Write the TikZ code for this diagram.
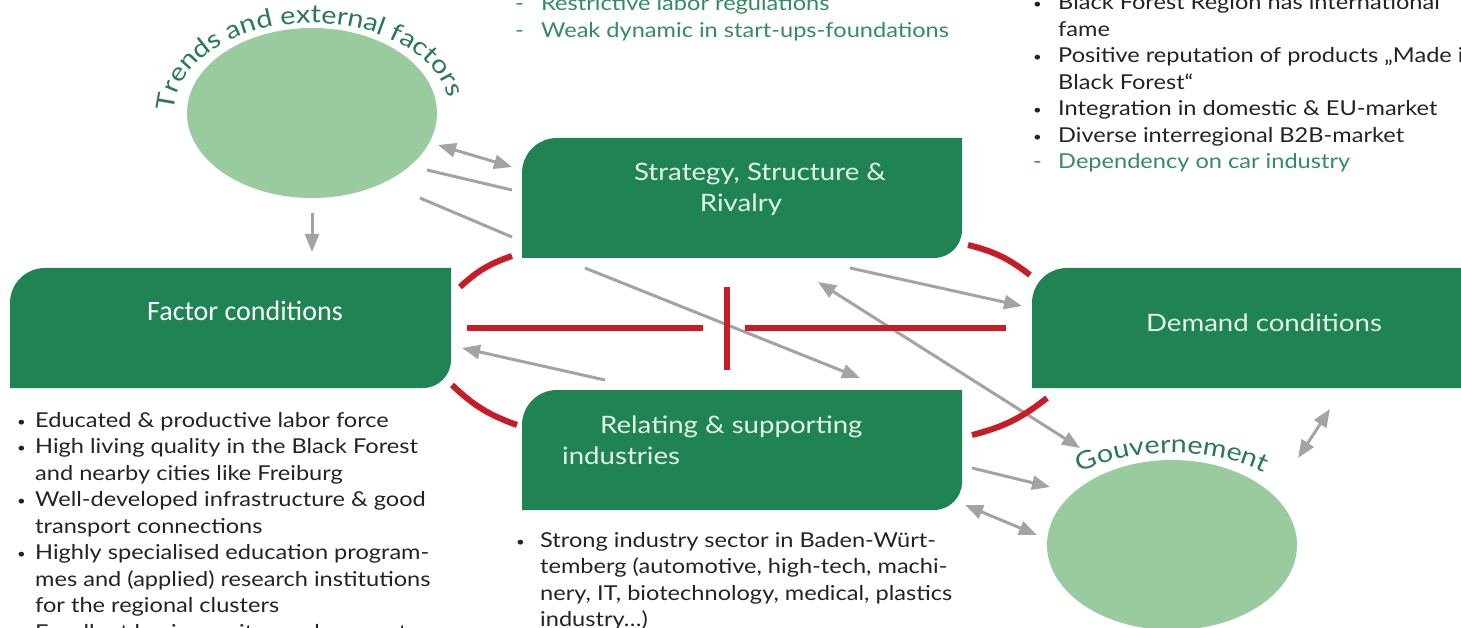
\documentclass[tikz,border=0pt]{standalone}
\usepackage{fontspec}
\setmainfont{Lato}[FakeStretch=1.15]
\newfontfamily\calibri{Carlito}
\usetikzlibrary{arrows.meta,decorations.text,shapes.geometric}
\definecolor{boxgreen}{RGB}{31,131,84}
\definecolor{lightgreen}{RGB}{153,203,158}
\definecolor{txtgreen}{RGB}{50,140,95}
\definecolor{arcgreen}{RGB}{42,120,88}
\definecolor{boxtxt}{RGB}{228,245,232}
\definecolor{redl}{RGB}{200,28,38}
\definecolor{greyl}{RGB}{163,163,163}
\definecolor{bodytxt}{RGB}{35,35,35}
\newcommand\bodyfnt{\fontsize{20.5}{26.5}\selectfont}
\newcommand\boxfnt{\fontsize{24}{31}\selectfont}
\newcommand\bul{\raisebox{1pt}{\fontsize{13}{13}\selectfont\textbullet}}
\begin{document}
\begin{tikzpicture}[x=1pt,y=-1pt,
  boxnode/.style={rectangle, inner sep=0, outer sep=0},
  tip/.style={Triangle[length=18pt,width=14pt]},
  garrow/.style={draw=greyl, line width=3pt, -{Triangle[length=18pt,width=14pt]}},
  gdouble/.style={draw=greyl, line width=3pt, {Triangle[length=18pt,width=14pt]}-{Triangle[length=18pt,width=14pt]}},
  gline/.style={draw=greyl, line width=3pt},
  redline/.style={draw=redl, line width=6pt},
  boxlabel/.style={text=boxtxt, font=\boxfnt, inner sep=0},
  bodytext/.style={text=bodytxt, font=\bodyfnt, inner sep=0, anchor=base west},
  greentext/.style={text=txtgreen, font=\bodyfnt, inner sep=0, anchor=base west},
  oval/.style={ellipse, fill=lightgreen, inner sep=0, minimum width=250pt, minimum height=170pt}
]
\useasboundingbox (0,0) rectangle (1461,628);
\clip (0,0) rectangle (1461,628);

% ellipses
\node[oval] (T) at (312,113) {};
\node[oval] (G) at (1172,545) {};
\path[decorate, decoration={text along path, text align=center, text color=arcgreen,
  text={|\fontsize{25}{25}\selectfont|Trends and external factors}}]
  (T.center) ++(170:138 and 90) arc[start angle=170, end angle=362, x radius=138, y radius=90];
\path[decorate, decoration={text along path, text align=center, text color=arcgreen,
  text={|\fontsize{25}{25}\selectfont|Gouvernement}}]
  (G.center) ++(210:150 and 92) arc[start angle=210, end angle=330, x radius=150, y radius=92];

% boxes
\node[boxnode, minimum width=440pt, minimum height=120pt] (S) at (742,198) {};
\node[boxnode, minimum width=441pt, minimum height=120pt] (F) at (230.5,328) {};
\node[boxnode, minimum width=458pt, minimum height=120pt] (D) at (1261,328) {};
\node[boxnode, minimum width=440pt, minimum height=120pt] (R) at (742,450) {};
\foreach \b in {S,F,D,R}{
  \fill[boxgreen] (\b.south west) [rounded corners=35pt] -- (\b.north west) [sharp corners] -- (\b.north east) [rounded corners=28pt] -- (\b.south east) [sharp corners] -- cycle;
}

% box labels
\node[boxlabel, anchor=base] (Sl) at (760,181) {\begin{tabular}[t]{@{}c@{}}Strategy, Structure \&\\ Rivalry\hspace*{38pt}\end{tabular}};
\node[boxlabel, anchor=base west] (Rl) at (562,433) {\begin{tabular}[t]{@{}l@{}}\hspace*{38pt}Relating \& supporting\\ industries\end{tabular}};
\node[boxlabel, anchor=base] (Dl) at (1264,331) {Demand conditions};
\node[text=white, inner sep=0, anchor=base, font=\calibri\fontsize{28}{28}\selectfont] (Fl) at (245,320) {Factor conditions};

% grey connectors
\coordinate (a1s) at (438,145); \coordinate (a1e) at (512,167);
\coordinate (a2s) at (427,170); \coordinate (a2e) at (512,190);
\coordinate (a3s) at (420,198); \coordinate (a3e) at (512,237);
\coordinate (a4s) at (585,268); \coordinate (a4e) at (860,378);
\coordinate (a5s) at (605,380); \coordinate (a5e) at (462,348);
\coordinate (a6s) at (850,268); \coordinate (a6e) at (1022,306);
\coordinate (a7s) at (818,282); \coordinate (a7e) at (1080,448);
\coordinate (a8s) at (972,468); \coordinate (a8e) at (1050,487);
\coordinate (a9s) at (965,505); \coordinate (a9e) at (1037,535);
\coordinate (a10s) at (1298,458); \coordinate (a10e) at (1330,409);
\coordinate (a11s) at (312,213); \coordinate (a11e) at (312,252);
\draw[gdouble] (a1s) -- (a1e);
\draw[gline] (a2s) -- (a2e);
\draw[gline] (a3s) -- (a3e);
\draw[garrow] (a4s) -- (a4e);
\draw[garrow] (a5s) -- (a5e);
\draw[garrow] (a6s) -- (a6e);
\draw[gdouble] (a7s) -- (a7e);
\draw[garrow] (a8s) -- (a8e);
\draw[gdouble] (a9s) -- (a9e);
\draw[gdouble] (a10s) -- (a10e);
\draw[garrow] (a11s) -- (a11e);

% red diamond ring and cross
\draw[redline] (460,287) to[bend left=12] (512,256);
\draw[redline] (968,245) to[bend left=12] (1030,275);
\draw[redline] (1047,398) to[bend left=12] (972,435);
\draw[redline] (517,425) to[bend left=12] (452,385);
\draw[redline] (467,328) -- (703,328);
\draw[redline] (727,287) -- (727,370);
\draw[redline] (745,328) -- (1006,328);

% text blocks
\node[greentext] (TM) at (515,11) {\begin{tabular}[t]{@{}p{26pt}@{}l@{}}-&Restrictive labor regulations\\ -&Weak dynamic in start-ups-foundations\end{tabular}};
\node[bodytext] (TR) at (1033,10) {\begin{tabular}[t]{@{}p{25pt}@{}l@{}}\bul&Black Forest Region has international\\ &fame\\ \bul&Positive reputation of products „Made in\\ &Black Forest“\\ \bul&Integration in domestic \& EU-market\\ \bul&Diverse interregional B2B-market\\ \textcolor{txtgreen}{-}&\textcolor{txtgreen}{Dependency on car industry}\end{tabular}};
\node[bodytext] (BL) at (17,427) {\begin{tabular}[t]{@{}p{18pt}@{}l@{}}\bul&Educated \& productive labor force\\ \bul&High living quality in the Black Forest\\ &and nearby cities like Freiburg\\ \bul&Well-developed infrastructure \& good\\ &transport connections\\ \bul&Highly specialised education program-\\ &mes and (applied) research institutions\\ &for the regional clusters\\ \bul&Excellent business sites and access to\end{tabular}};
\node[bodytext] (BM) at (516,547) {\begin{tabular}[t]{@{}p{24pt}@{}l@{}}\bul&Strong industry sector in Baden-Würt-\\ &temberg (automotive, high-tech, machi-\\ &nery, IT, biotechnology, medical, plastics\\ &industry…)\end{tabular}};
\end{tikzpicture}
\end{document}
